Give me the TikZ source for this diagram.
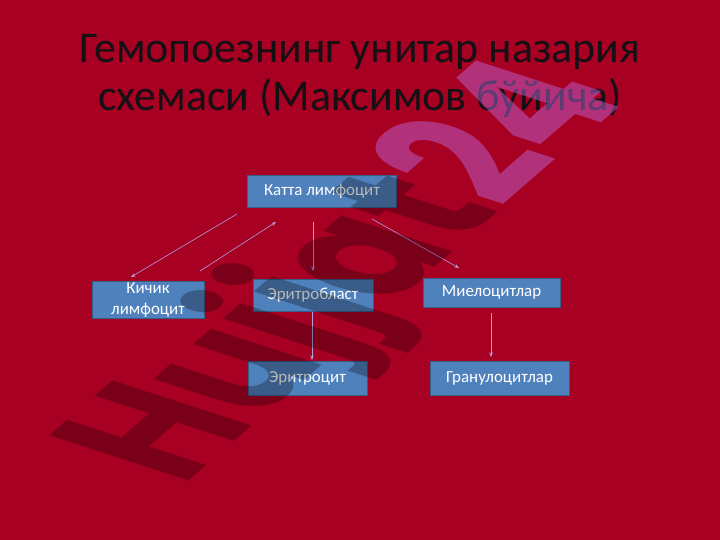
\documentclass[tikz,border=0pt]{standalone}
\usepackage{fontspec}
\setmainfont{Carlito}
\newfontfamily\wmfont{Poppins}
\usetikzlibrary{arrows.meta}
\definecolor{bg}{RGB}{168,0,34}
\definecolor{boxblue}{RGB}{79,129,189}
\definecolor{boxedge}{RGB}{56,93,138}
\definecolor{arrowc}{RGB}{175,160,225}
\definecolor{titlec}{RGB}{20,16,20}
\definecolor{wmpink}{RGB}{190,110,230}
\begin{document}
\begin{tikzpicture}[x=1bp,y=-1bp,
  cell/.style={draw=boxedge, line width=0.8pt, fill=boxblue, text=white,
    font=\fontsize{17}{21}\selectfont, inner sep=0pt, align=center},
  link/.style={draw=arrowc, line width=0.6pt, -{Stealth[length=4.5pt,width=3.5pt]}},
  ttl/.style={text=titlec, font=\fontsize{44}{48}\selectfont, inner sep=0pt, anchor=base},
  wm/.style={font=\wmfont\bfseries\fontsize{138}{138}\selectfont, inner sep=0pt,
    rotate=41, xslant=-0.6, yscale=1.3}]
\fill[bg] (0,0) rectangle (720,540);
\useasboundingbox (0,0) rectangle (720,540);

\node[ttl] (t1) at (360,63) {Гемопоезнинг унитар назария};
\node[ttl] (t2) at (360,111) {схемаси (Максимов бўйича)};

\node[cell, minimum width=149bp, minimum height=32bp] (katta) at (322,191) {Катта лимфоцит};
\node[cell, minimum width=112bp, minimum height=37bp] (kichik) at (148,299.5) {Кичик\\лимфоцит};
\node[cell, minimum width=120bp, minimum height=32bp] (eb) at (313,295) {Эритробласт};
\node[cell, minimum width=137bp, minimum height=29bp] (miel) at (491.5,292.5) {Миелоцитлар};
\node[cell, minimum width=119bp, minimum height=34bp] (ec) at (307.5,378) {Эритроцит};
\node[cell, minimum width=139bp, minimum height=34bp] (gran) at (499.5,378) {Гранулоцитлар};

\coordinate (a1s) at (237,214);
\coordinate (a1e) at (131,277);
\coordinate (a2s) at (200,271);
\coordinate (a2e) at (276,222);
\coordinate (a3s) at (313,222);
\coordinate (a3e) at (313,271);
\coordinate (a4s) at (372,219);
\coordinate (a4e) at (459,268);
\coordinate (a5s) at (312,312);
\coordinate (a5e) at (312,360);
\coordinate (a6s) at (491,313);
\coordinate (a6e) at (491,357);
\draw[link] (a1s) -- (a1e);
\draw[link] (a2s) -- (a2e);
\draw[link] (a3s) -- (a3e);
\draw[link] (a4s) -- (a4e);
\draw[link] (a5s) -- (a5e);
\draw[link] (a6s) -- (a6e);

\node[wm, anchor=base west, text=black, text opacity=0.28] (wm1) at (182,487) {Hujjat};
\node[wm, anchor=base west, text=wmpink, text opacity=0.45] (wm2) at (wm1.base east) {24};
\end{tikzpicture}
\end{document}
